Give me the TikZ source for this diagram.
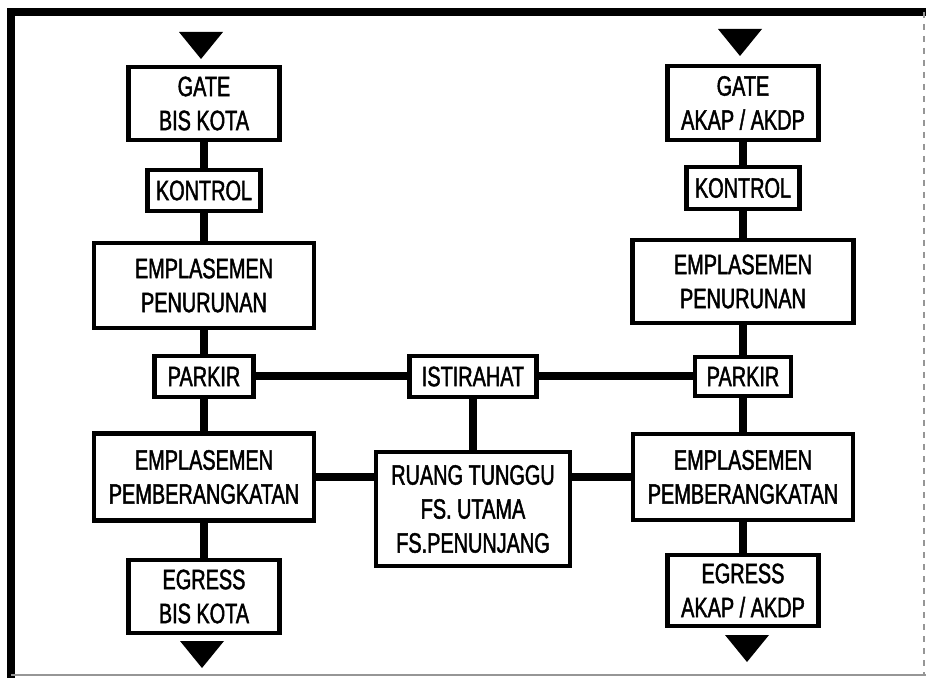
\documentclass[tikz,border=0pt]{standalone}
\usepackage{fontspec}
\newfontfamily\narrowfont{Liberation Sans}[FakeStretch=0.71,FakeBold=1.6]
\usetikzlibrary{positioning,calc}
\definecolor{inkclr}{RGB}{0,0,0}
\definecolor{faintclr}{RGB}{150,150,150}
\tikzset{
    box/.style={rectangle,draw=inkclr,line width=2.2pt,fill=white,align=center,inner sep=1pt,font=\narrowfont\fontsize{14}{17}\selectfont},
    boxsize/.style 2 args={minimum width=#1*0.5pt,minimum height=#2*0.5pt},
    edge/.style={draw=inkclr,line width=4pt},
    frame/.style={draw=inkclr,line width=4pt},
}
\newcommand{\downtip}[1]{\fill[inkclr] (#1) -- ++(-22,-27) -- ++(44,0) -- cycle;}

\begin{document}
\begin{tikzpicture}[x=0.5pt,y=-0.5pt]
\useasboundingbox (0,0) rectangle (926,678);
% frame
\draw[frame] (11,678) -- (11,12) -- (926,12);
\draw[faintclr,line width=1pt] (11,675) -- (926,675);
\draw[faintclr,line width=0.8pt,dashed] (924,12) -- (924,675);

% bis kota (left column)
\node[box,boxsize={151}{73}] (gL)  at (204,103.5) {GATE\\BIS KOTA};
\node[box,boxsize={113}{41}] (kL)  at (204,190.5) {KONTROL};
\node[box,boxsize={220}{85}] (epL) at (204,285.5) {EMPLASEMEN\\PENURUNAN};
\node[box,boxsize={99}{41}]  (pL)  at (204,376.5) {PARKIR};
\node[box,boxsize={220}{87}] (ebL) at (204,477)   {EMPLASEMEN\\PEMBERANGKATAN};
\node[box,boxsize={151}{73}] (xL)  at (204,596.5) {EGRESS\\BIS KOTA};

% shared facilities
\node[box,boxsize={127}{41}]  (ist) at (473,376.5) {ISTIRAHAT};
\node[box,boxsize={194}{114}] (rt)  at (473,509)   {RUANG TUNGGU\\FS. UTAMA\\FS.PENUNJANG};

% akap / akdp (right column)
\node[box,boxsize={151}{74}] (gR)  at (743,103)   {GATE\\AKAP / AKDP};
\node[box,boxsize={113}{42}] (kR)  at (743,188)   {KONTROL};
\node[box,boxsize={221}{83}] (epR) at (743,281.5) {EMPLASEMEN\\PENURUNAN};
\node[box,boxsize={96}{39}]  (pR)  at (743,376.5) {PARKIR};
\node[box,boxsize={220}{86}] (ebR) at (743,477)   {EMPLASEMEN\\PEMBERANGKATAN};
\node[box,boxsize={151}{71}] (xR)  at (743,590.5) {EGRESS\\AKAP / AKDP};

% in / out marks
\coordinate (inL)  at (201,59);
\coordinate (inR)  at (740,56);
\coordinate (outL) at (202,668);
\coordinate (outR) at (747,662);
\downtip{inL}
\downtip{inR}
\downtip{outL}
\downtip{outR}

% wiring
\draw[edge] (gL) -- (kL);
\draw[edge] (kL) -- (epL);
\draw[edge] (epL) -- (pL);
\draw[edge] (pL) -- (ebL);
\draw[edge] (ebL) -- (xL);

\draw[edge] (gR) -- (kR);
\draw[edge] (kR) -- (epR);
\draw[edge] (epR) -- (pR);
\draw[edge] (pR) -- (ebR);
\draw[edge] (ebR) -- (xR);

\draw[edge] (pL) -- (ist);
\draw[edge] (ist) -- (pR);
\draw[edge] (ist) -- (rt);
\draw[edge] (ebL) -- (ebL -| rt.west);
\draw[edge] (ebR) -- (ebR -| rt.east);
\end{tikzpicture}
\end{document}
